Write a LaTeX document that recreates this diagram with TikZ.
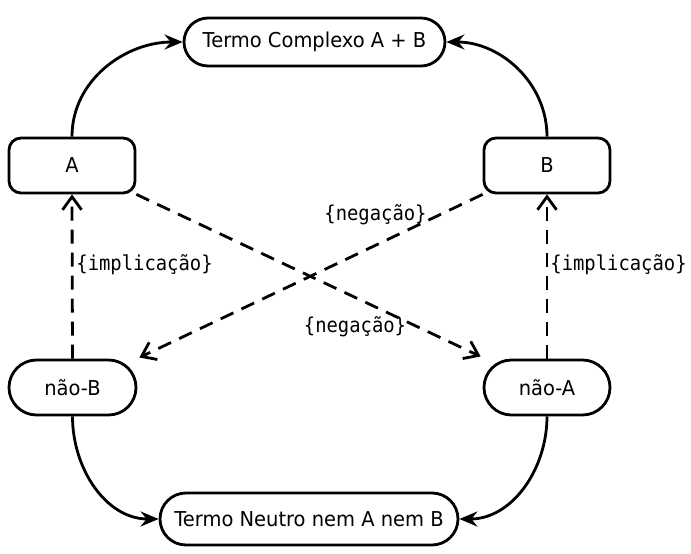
\documentclass[tikz,border=0pt]{standalone}
\usepackage{fontspec}
\setmainfont{DejaVu Sans}[FakeStretch=0.95]
\newfontfamily\labelmono{DejaVu Sans Mono}[FakeStretch=0.92]
\usetikzlibrary{arrows.meta,shapes.misc}
\begin{document}
\begin{tikzpicture}[x=1pt,y=-1pt,
  every node/.style={font=\fontsize{20.5}{24}\selectfont, line width=2.8pt, draw, inner sep=0pt},
  stadium/.style={rounded rectangle},
  boxnode/.style={rectangle, rounded corners=12pt},
  solidarrow/.style={line width=2.8pt, -{Stealth[length=18pt,width=15pt,inset=6pt]}},
  dasharrow/.style={line width=2.8pt, dash pattern=on 14pt off 9pt, -{Straight Barb[length=13pt,width=19pt]}},
  lbl/.style={draw=none, font=\labelmono\fontsize{20.5}{24}\selectfont, inner sep=0pt}
]
\useasboundingbox (0,0) rectangle (691,554);
\node[stadium, minimum width=261pt, minimum height=48pt] (top) at (314.5,42) {Termo Complexo A + B};
\node[boxnode, minimum width=126pt, minimum height=55pt] (A) at (72,165.5) {A};
\node[boxnode, minimum width=126pt, minimum height=55pt] (B) at (547,165.5) {B};
\node[stadium, minimum width=127pt, minimum height=55pt] (nB) at (72.5,387.5) {não-B};
\node[stadium, minimum width=126pt, minimum height=55pt] (nA) at (547,387.5) {não-A};
\node[stadium, minimum width=298pt, minimum height=52pt] (bot) at (309,519) {Termo Neutro nem A nem B};

\draw[solidarrow] (A.north) to[out=90,in=180] (top.west);
\draw[solidarrow] (B.north) to[out=90,in=0] (top.east);
\draw[solidarrow] (nB.south) to[out=-90,in=180] (bot.west);
\draw[solidarrow] (nA.south) to[out=-90,in=0] (bot.east);

\draw[dasharrow] (nB.north) -- (A.south);
\draw[dasharrow] (nA.north) -- (B.south);
\coordinate (nAtip) at ([shift={(-2,-31)}]nA.west);
\coordinate (nBtip) at ([shift={(2,-30)}]nB.east);
\draw[dasharrow] (A.south east) -- (nAtip);
\draw[dasharrow] (B.south west) -- (nBtip);

\node[lbl, anchor=west] (l1) at (75,265) {\{implicação\}};
\node[lbl, anchor=west] (l2) at (549,265) {\{implicação\}};
\node[lbl] (l3) at (375.5,215) {\{negação\}};
\node[lbl] (l4) at (355,327) {\{negação\}};
\end{tikzpicture}
\end{document}
